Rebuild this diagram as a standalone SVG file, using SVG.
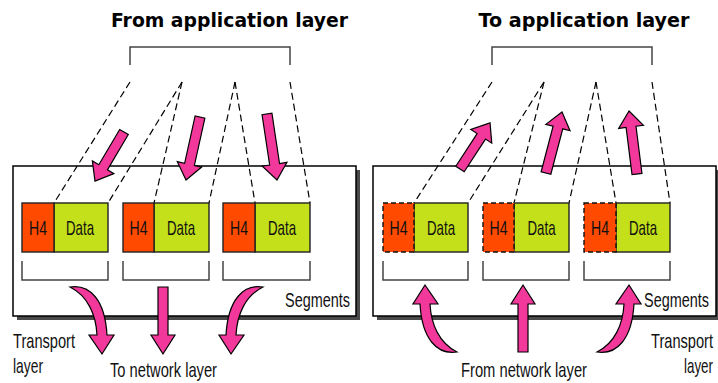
<svg xmlns="http://www.w3.org/2000/svg" xmlns:xlink="http://www.w3.org/1999/xlink" width="718" height="383" viewBox="0 0 718 383">
  <style>
    .title { font-family: "DejaVu Sans", "Liberation Sans", sans-serif; font-weight: bold; font-size: 20px; fill: #000; }
    .lbl { font-family: "Liberation Sans", Arial, sans-serif; font-size: 20px; fill: #111; }
    .seg { font-family: "Liberation Sans", Arial, sans-serif; font-size: 21px; fill: #111; text-anchor: middle; }
    .frame { fill: #fff; stroke: #000; stroke-width: 1.5; }
    .shadow { fill: #4a4a4a; }
    .brace { fill: none; stroke: #444; stroke-width: 1.5; }
    .dash { fill: none; stroke: #000; stroke-width: 1.2; stroke-dasharray: 7 4; }
    .h4 { fill: #ff4a00; stroke: #222; stroke-width: 1.4; }
    .h4d { fill: #ff4a00; stroke: #111; stroke-width: 1.4; stroke-dasharray: 5 3; }
    .data { fill: #c3e01a; stroke: #222; stroke-width: 1.4; }
    .pink { fill: #f2399b; stroke: #000; stroke-width: 1.2; stroke-linejoin: miter; }
  </style>
  <defs>
    <!-- curved tapering arrow, tail at upper left, pointing down -->
    <path id="curveArrow" d="M70,287 C90,284 105,300 107,335 L114,335 L102,354 L89,335 L97,335 C96,315 88,296 70,287 Z"/>
    <!-- straight vertical arrow pointing down -->
    <path id="downArrow" d="M158,287 L168,287 L168,335 L175,335 L163,354 L151,335 L158,335 Z"/>
  </defs>

  <!-- titles -->
  <text class="title" x="229.5" y="27" text-anchor="middle" textLength="237" lengthAdjust="spacingAndGlyphs">From application layer</text>
  <text class="title" x="584" y="27" text-anchor="middle" textLength="211" lengthAdjust="spacingAndGlyphs">To application layer</text>

  <!-- application data brackets -->
  <g id="app-data-left">
    <path class="brace" d="M130,65 V47 H290 V65"/>
  </g>
  <g id="app-data-right">
    <path class="brace" d="M492,65 V47 H652 V65"/>
  </g>

  <!-- transport layer frames -->
  <g id="transport-left">
    <rect class="shadow" x="17" y="170" width="343" height="150"/>
    <rect class="frame" x="13" y="166" width="343" height="150"/>
  </g>
  <g id="transport-right">
    <rect class="shadow" x="377" y="170" width="341" height="150"/>
    <rect class="frame" x="373" y="166" width="343" height="150"/>
  </g>

  <g id="connectors">
    <!-- data split lines, sender side -->
    <line class="dash" x1="130" y1="82" x2="54" y2="203"/>
    <line class="dash" x1="182" y1="82" x2="108" y2="203"/>
    <line class="dash" x1="182" y1="82" x2="154" y2="203"/>
    <line class="dash" x1="235" y1="82" x2="209" y2="203"/>
    <line class="dash" x1="235" y1="82" x2="255" y2="203"/>
    <line class="dash" x1="290" y1="82" x2="310" y2="203"/>
    <!-- data join lines, receiver side -->
    <line class="dash" x1="492" y1="82" x2="414" y2="203"/>
    <line class="dash" x1="544" y1="82" x2="468" y2="203"/>
    <line class="dash" x1="544" y1="82" x2="514" y2="203"/>
    <line class="dash" x1="596" y1="82" x2="569" y2="203"/>
    <line class="dash" x1="596" y1="82" x2="616" y2="203"/>
    <line class="dash" x1="652" y1="82" x2="670" y2="203"/>
  </g>

  <!-- sender segments -->
  <g id="seg-left-1">
    <rect class="data" x="54" y="203" width="54" height="49"/>
    <rect class="h4" x="22" y="203" width="32" height="49"/>
    <text class="seg" x="38" y="235" textLength="18" lengthAdjust="spacingAndGlyphs">H4</text>
    <text class="seg" x="80" y="235" textLength="28" lengthAdjust="spacingAndGlyphs">Data</text>
    <path class="brace" d="M22,261 V280 H108 V261"/>
  </g>
  <g id="seg-left-2">
    <rect class="data" x="154" y="203" width="55" height="49"/>
    <rect class="h4" x="123" y="203" width="31" height="49"/>
    <text class="seg" x="138.5" y="235" textLength="18" lengthAdjust="spacingAndGlyphs">H4</text>
    <text class="seg" x="181" y="235" textLength="28" lengthAdjust="spacingAndGlyphs">Data</text>
    <path class="brace" d="M123,261 V280 H209 V261"/>
  </g>
  <g id="seg-left-3">
    <rect class="data" x="255" y="203" width="55" height="49"/>
    <rect class="h4" x="223" y="203" width="32" height="49"/>
    <text class="seg" x="239" y="235" textLength="18" lengthAdjust="spacingAndGlyphs">H4</text>
    <text class="seg" x="282" y="235" textLength="28" lengthAdjust="spacingAndGlyphs">Data</text>
    <path class="brace" d="M223,261 V280 H310 V261"/>
  </g>

  <!-- receiver segments -->
  <g id="seg-right-1">
    <rect class="data" x="414" y="203" width="54" height="49"/>
    <rect class="h4d" x="383" y="203" width="31" height="49"/>
    <text class="seg" x="398.5" y="235" textLength="18" lengthAdjust="spacingAndGlyphs">H4</text>
    <text class="seg" x="441" y="235" textLength="28" lengthAdjust="spacingAndGlyphs">Data</text>
    <path class="brace" d="M383,261 V280 H468 V261"/>
  </g>
  <g id="seg-right-2">
    <rect class="data" x="514" y="203" width="55" height="49"/>
    <rect class="h4d" x="483" y="203" width="31" height="49"/>
    <text class="seg" x="498.5" y="235" textLength="18" lengthAdjust="spacingAndGlyphs">H4</text>
    <text class="seg" x="541.5" y="235" textLength="28" lengthAdjust="spacingAndGlyphs">Data</text>
    <path class="brace" d="M483,261 V280 H569 V261"/>
  </g>
  <g id="seg-right-3">
    <rect class="data" x="616" y="203" width="54" height="49"/>
    <rect class="h4d" x="584" y="203" width="32" height="49"/>
    <text class="seg" x="600" y="235" textLength="18" lengthAdjust="spacingAndGlyphs">H4</text>
    <text class="seg" x="643" y="235" textLength="28" lengthAdjust="spacingAndGlyphs">Data</text>
    <path class="brace" d="M584,261 V280 H670 V261"/>
  </g>

  <g id="flow-arrows">
    <!-- application data entering the sender -->
    <polygon class="pink" transform="translate(124,132) rotate(120.6)" points="0,-5 41,-5 41,-12.5 57,0 41,12.5 41,5 0,5"/>
    <polygon class="pink" transform="translate(200,117) rotate(102.5)" points="0,-5 48.5,-5 48.5,-12.5 64.5,0 48.5,12.5 48.5,5 0,5"/>
    <polygon class="pink" transform="translate(267,114) rotate(81.4)" points="0,-5 50.8,-5 50.8,-12.5 66.8,0 50.8,12.5 50.8,5 0,5"/>
    <!-- data leaving the receiver -->
    <polygon class="pink" transform="translate(460,169) rotate(-56.9)" points="0,-5 39,-5 39,-12.5 55,0 39,12.5 39,5 0,5"/>
    <polygon class="pink" transform="translate(546,173) rotate(-75.3)" points="0,-5 47,-5 47,-12.5 63,0 47,12.5 47,5 0,5"/>
    <polygon class="pink" transform="translate(637,174) rotate(-97.2)" points="0,-5 47.5,-5 47.5,-12.5 63.5,0 47.5,12.5 47.5,5 0,5"/>
    <!-- segments to the network layer -->
    <use xlink:href="#curveArrow" class="pink"/>
    <use xlink:href="#downArrow" class="pink"/>
    <use xlink:href="#curveArrow" class="pink" transform="translate(333,0) scale(-1,1)"/>
    <!-- segments from the network layer -->
    <use xlink:href="#curveArrow" class="pink" transform="translate(527,639) scale(-1,-1)"/>
    <use xlink:href="#downArrow" class="pink" transform="translate(360,639) scale(1,-1)"/>
    <use xlink:href="#curveArrow" class="pink" transform="translate(527,639) scale(1,-1)"/>
  </g>

  <!-- labels (horizontally condensed) -->
  <text class="lbl" transform="translate(285,307) scale(0.75,1)" textLength="86.7" lengthAdjust="spacingAndGlyphs">Segments</text>
  <text class="lbl" transform="translate(13,348) scale(0.75,1)" textLength="82.7" lengthAdjust="spacingAndGlyphs">Transport</text>
  <text class="lbl" transform="translate(13,373) scale(0.75,1)" textLength="40" lengthAdjust="spacingAndGlyphs">layer</text>
  <text class="lbl" transform="translate(110,377) scale(0.75,1)" textLength="142.7" lengthAdjust="spacingAndGlyphs">To network layer</text>

  <text class="lbl" transform="translate(644,307) scale(0.75,1)" textLength="86.7" lengthAdjust="spacingAndGlyphs">Segments</text>
  <text class="lbl" transform="translate(651,348) scale(0.75,1)" textLength="82.7" lengthAdjust="spacingAndGlyphs">Transport</text>
  <text class="lbl" transform="translate(713,373) scale(0.75,1)" text-anchor="end" textLength="38.7" lengthAdjust="spacingAndGlyphs">layer</text>
  <text class="lbl" transform="translate(461,377) scale(0.75,1)" textLength="168" lengthAdjust="spacingAndGlyphs">From network layer</text>
</svg>
